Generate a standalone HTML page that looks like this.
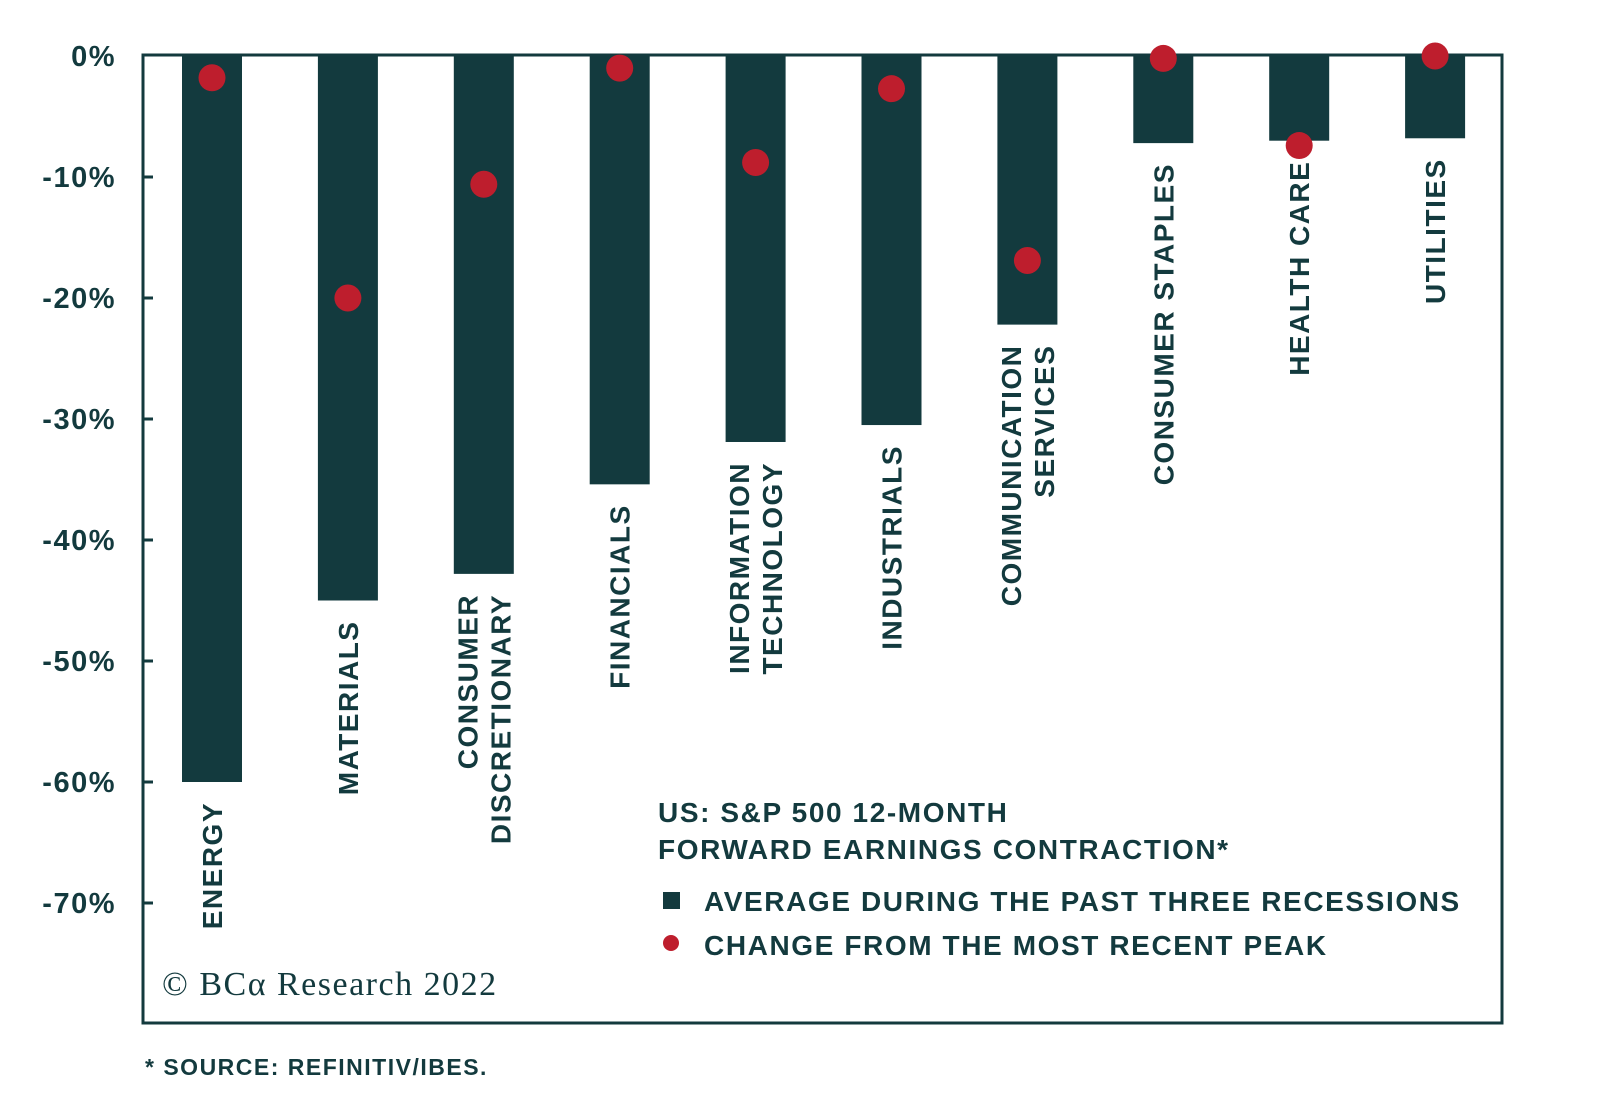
<!DOCTYPE html>
<html><head><meta charset="utf-8"><style>
html,body{margin:0;padding:0;background:#fff;}
svg{display:block;font-family:"Liberation Sans",sans-serif;font-weight:bold;}
</style></head><body>
<svg id="chart" width="1600" height="1095" viewBox="0 0 1600 1095">
<rect x="143" y="55" width="1359" height="968" fill="none" stroke="#133a3e" stroke-width="3"/>
<g id="yaxis"></g>
<g id="bars"></g>
<g id="dots"></g>
<g id="labels"></g>
<g fill="#133a3e" font-size="28" letter-spacing="1.6">
<text x="658" y="822">US: S&amp;P 500 12-MONTH</text>
<text x="658" y="859">FORWARD EARNINGS CONTRACTION*</text>
<rect x="663" y="892" width="17" height="17" fill="#133a3e"/>
<text x="704" y="911">AVERAGE DURING THE PAST THREE RECESSIONS</text>
<circle cx="671" cy="943" r="8" fill="#be1e2d"/>
<text x="704" y="955">CHANGE FROM THE MOST RECENT PEAK</text>
</g>
<text x="162" y="995" font-family="Liberation Serif,serif" font-weight="normal" font-size="34" letter-spacing="1.5" fill="#133a3e">© BCα Research 2022</text>
<text x="145" y="1075" font-size="23" letter-spacing="1.5" fill="#133a3e">* SOURCE: REFINITIV/IBES.</text>
</svg>
<script>
const categories=[["ENERGY"],["MATERIALS"],["CONSUMER","DISCRETIONARY"],["FINANCIALS"],["INFORMATION","TECHNOLOGY"],["INDUSTRIALS"],["COMMUNICATION","SERVICES"],["CONSUMER STAPLES"],["HEALTH CARE"],["UTILITIES"]];
const avgRecession=[-60,-45,-42.8,-35.4,-31.9,-30.5,-22.2,-7.2,-7.0,-6.8];
const changeFromPeak=[-1.8,-20,-10.6,-1,-8.8,-2.7,-16.9,-0.2,-7.4,0];
const yTicks=[0,-10,-20,-30,-40,-50,-60,-70];
const NS="http://www.w3.org/2000/svg";
function y(v){return 56+(-v)*12.1;}
function xc(i){return 212+i*135.9;}
function mk(tag,attrs,parent){const e=document.createElementNS(NS,tag);for(const k in attrs)e.setAttribute(k,attrs[k]);parent.appendChild(e);return e;}
const gy=document.getElementById('yaxis'),gb=document.getElementById('bars'),gd=document.getElementById('dots'),gl=document.getElementById('labels');
yTicks.forEach(t=>{
 const tx=mk('text',{x:116,y:y(t)+10,'text-anchor':'end','font-size':29,'letter-spacing':1.5,fill:'#133a3e'},gy);
 tx.textContent=t+'%';
 
 
 if(t!==0){const l=mk('line',{x1:143,x2:153,y1:y(t),y2:y(t),stroke:'#133a3e','stroke-width':3},gy);
 
 }
});
categories.forEach((c,i)=>{
 const r=mk('rect',{x:xc(i)-30,y:y(0),width:60,height:y(avgRecession[i])-y(0),fill:'#133a3e'},gb);
 
 
 const d=mk('circle',{cx:xc(i),cy:y(changeFromPeak[i]),r:13.5,fill:'#be1e2d'},gd);
 
 
 const top=y(avgRecession[i])+20;
 c.forEach((line,j)=>{
  const off=(j-(c.length-1)/2)*33;
  const xx=xc(i)+off+10;
  const t=mk('text',{x:xx,y:top,'text-anchor':'end','font-size':28,'letter-spacing':1.5,fill:'#133a3e',transform:`rotate(-90 ${xx} ${top})`},gl);
  t.textContent=line;
  
  
 });
});
</script>
</body></html>
